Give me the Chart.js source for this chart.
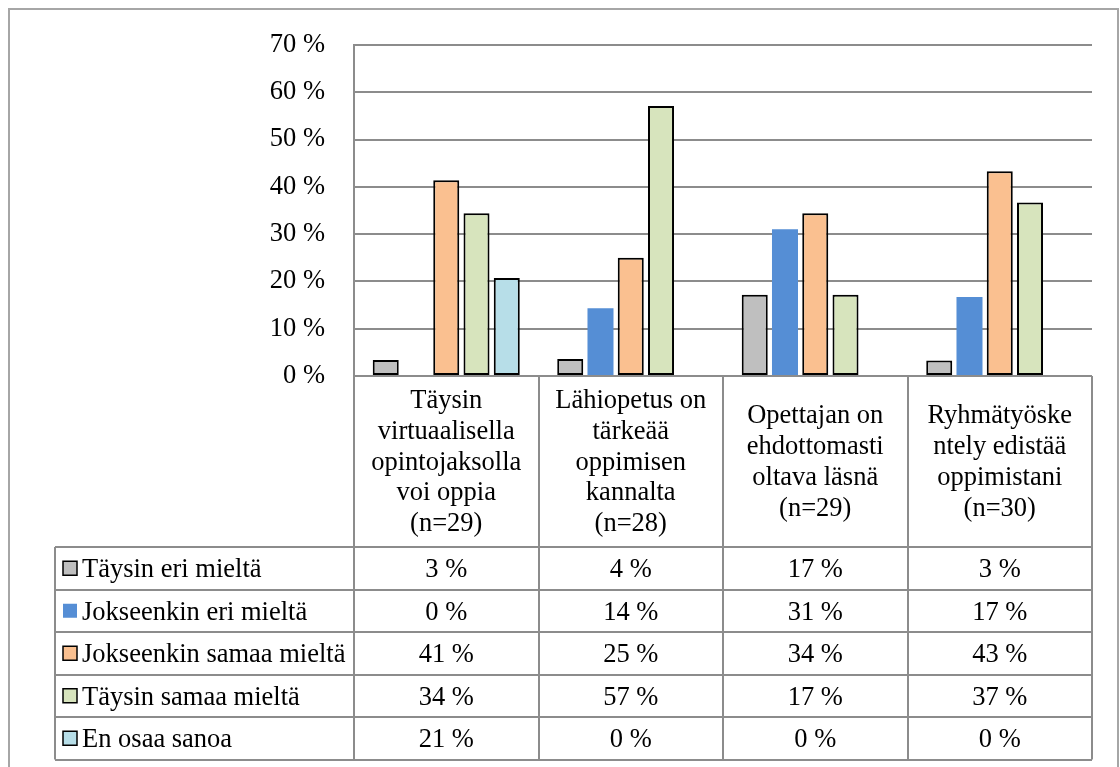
<!DOCTYPE html>
<html>
<head>
<meta charset="utf-8">
<script src="https://cdn.jsdelivr.net/npm/chart.js@4.4.0/dist/chart.umd.min.js"></script>
<style>
  html, body { margin: 0; padding: 0; background: #fff; }
  #wrap { position: relative; width: 1120px; height: 767px; }
</style>
</head>
<body>
<div id="wrap"><canvas id="chart"></canvas></div>
<script>
// Categories (multi-line x labels, as in the original)
const categories = [
  ['Täysin', 'virtuaalisella', 'opintojaksolla', 'voi oppia', '(n=29)'],
  ['Lähiopetus on', 'tärkeää', 'oppimisen', 'kannalta', '(n=28)'],
  ['Opettajan on', 'ehdottomasti', 'oltava läsnä', '(n=29)'],
  ['Ryhmätyöske', 'ntely edistää', 'oppimistani', '(n=30)']
];

// Series names
const seriesNames = [
  'Täysin eri mieltä',
  'Jokseenkin eri mieltä',
  'Jokseenkin samaa mieltä',
  'Täysin samaa mieltä',
  'En osaa sanoa'
];

// Series values (%)
const taysinEri = [3.4, 3.6, 17.2, 3.3];
const jokseenkinEri = [0, 14.3, 31.0, 16.7];
const jokseenkinSamaa = [41.4, 25.0, 34.4, 43.3];
const taysinSamaa = [34.4, 57.1, 17.2, 36.7];
const enOsaa = [20.7, 0, 0, 0];

// Y axis ticks
const yMax = 70;
const yStep = 10;

const seriesData = [taysinEri, jokseenkinEri, jokseenkinSamaa, taysinSamaa, enOsaa];
const colors = ['#bfbfbf', '#558ed5', '#fac090', '#d7e4bd', '#b7dee8'];
const borders = [2, 0, 2, 2, 2];

const FONT = "'Liberation Serif', 'Times New Roman', serif";
const FSIZE = 26.5;
const GRID = '#8c8c8c';

// Draws the data table under the category labels
const tablePlugin = {
  id: 'dataTable',
  afterDraw(chart) {
    const ctx = chart.ctx;
    const area = chart.chartArea;
    const top = chart.scales.x.bottom;
    const rowH = 42.5;
    const labelLeft = 55;
    const n = categories.length;
    const colW = (area.right - area.left) / n;
    const bottom = top + rowH * seriesNames.length;

    ctx.save();
    ctx.strokeStyle = GRID;
    ctx.lineWidth = 2;

    // vertical lines
    for (let i = 0; i <= n; i++) {
      const x = Math.round(area.left + i * colW);
      ctx.beginPath();
      ctx.moveTo(x, area.bottom);
      ctx.lineTo(x, bottom);
      ctx.stroke();
    }
    ctx.beginPath();
    ctx.moveTo(labelLeft, top);
    ctx.lineTo(labelLeft, bottom);
    ctx.stroke();

    // horizontal lines
    for (let r = 0; r <= seriesNames.length; r++) {
      const y = Math.round(top + r * rowH);
      ctx.beginPath();
      ctx.moveTo(labelLeft, y);
      ctx.lineTo(area.right, y);
      ctx.stroke();
    }

    // row text
    ctx.font = FSIZE + 'px ' + FONT;
    ctx.textBaseline = 'middle';
    seriesNames.forEach((name, r) => {
      const cy = top + r * rowH + rowH / 2;
      // legend key
      ctx.fillStyle = colors[r];
      ctx.fillRect(63, cy - 7, 14, 14);
      if (borders[r]) {
        ctx.lineWidth = 1.5;
        ctx.strokeStyle = '#000';
        ctx.strokeRect(63, cy - 7, 14, 14);
      }
      ctx.fillStyle = '#000';
      ctx.textAlign = 'left';
      ctx.fillText(name, 82, cy + 2);
      ctx.textAlign = 'center';
      seriesData[r].forEach((v, i) => {
        ctx.fillText(Math.round(v) + ' %', area.left + (i + 0.5) * colW, cy + 2);
      });
    });

    // outer chart frame
    ctx.strokeStyle = '#a6a6a6';
    ctx.lineWidth = 2;
    ctx.strokeRect(9, 9, 1109, 775);
    ctx.restore();
  }
};

const chart = new Chart(document.getElementById('chart').getContext('2d'), {
  type: 'bar',
  data: {
    labels: categories,
    datasets: seriesNames.map((name, i) => ({
      label: name,
      data: seriesData[i],
      backgroundColor: colors[i],
      borderColor: '#000',
      borderWidth: borders[i],
      borderSkipped: false,
      categoryPercentage: 0.82,
      barPercentage: 0.86
    }))
  },
  options: {
    responsive: true,
    maintainAspectRatio: false,
    animation: false,
    layout: { padding: { left: 0, right: 28, top: 38, bottom: 220 } },
    plugins: {
      legend: { display: false },
      tooltip: { enabled: false }
    },
    scales: {
      x: {
        grid: { display: false, drawTicks: false },
        border: { display: false },
        afterFit: (s) => { s.height = 171; },
        ticks: {
          color: '#000',
          font: { family: FONT, size: FSIZE, lineHeight: 1.164 },
          padding: 25,
          crossAlign: 'center',
          maxRotation: 0,
          autoSkip: false
        }
      },
      y: {
        min: 0,
        max: yMax,
        afterFit: (s) => { s.width = 354; },
        grid: { color: GRID, lineWidth: 2, drawTicks: false },
        border: { color: GRID, width: 2 },
        ticks: {
          stepSize: yStep,
          color: '#000',
          padding: 29,
          font: { family: FONT, size: FSIZE },
          callback: (v) => v + ' %'
        }
      }
    }
  },
  plugins: [tablePlugin]
});
</script>
</body>
</html>
